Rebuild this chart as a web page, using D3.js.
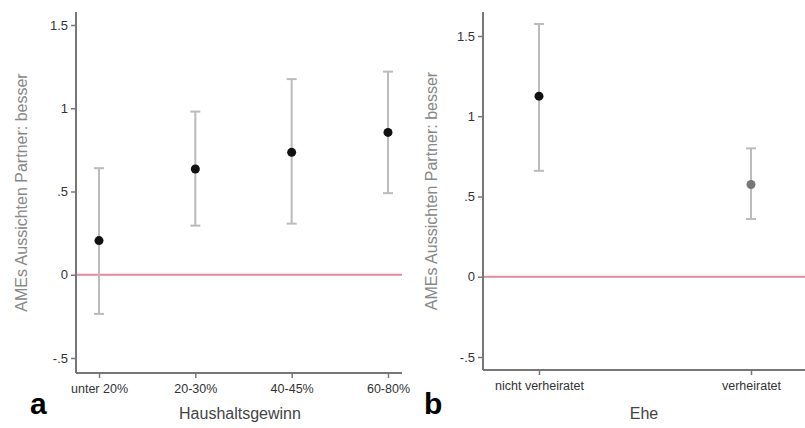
<!DOCTYPE html>
<html>
<head>
<meta charset="utf-8">
<script src="https://cdn.jsdelivr.net/npm/d3@7"></script>
<style>
  body { margin: 0; background: #fff; }
  svg { display: block; font-family: "Liberation Sans", Arial, sans-serif; }
</style>
</head>
<body>
<div id="chart"></div>
<script>
// panel a: Haushaltsgewinn
const incomeCats = ["unter 20%", "20-30%", "40-45%", "60-80%"]
const incomeEst = [0.205, 0.635, 0.735, 0.855]
const incomeLo = [-0.235, 0.295, 0.307, 0.49]
const incomeHi = [0.64, 0.98, 1.175, 1.22]
const incomeDot = ["#111", "#111", "#111", "#111"]

// panel b: Ehe
const marriageCats = ["nicht verheiratet", "verheiratet"]
const marriageEst = [1.125, 0.575]
const marriageLo = [0.66, 0.36]
const marriageHi = [1.575, 0.80]
const marriageDot = ["#111", "#777"]

const yTicks = [-0.5, 0, 0.5, 1, 1.5]
const yTitle = "AMEs Aussichten Partner: besser"

const W = 805, H = 428
const svg = d3.select("#chart").append("svg").attr("width", W).attr("height", H)

// stata style: .5 and -.5
const fmt = d => String(d).replace(/^0\./, ".").replace(/^-0\./, "-.")

function panel(opt) {
  const g = svg.append("g")
  const y = d3.scaleLinear().domain([-0.5, 1.5]).range([opt.y0, opt.y15])
  const x = d3.scalePoint().domain(opt.cats).range([opt.xFirst, opt.xLast])

  // zero line
  g.append("line")
    .attr("x1", opt.left).attr("x2", opt.right)
    .attr("y1", y(0)).attr("y2", y(0))
    .attr("stroke", "#e28a9c").attr("stroke-width", 2)

  // y axis
  const ya = g.append("g").attr("transform", `translate(${opt.left},0)`)
    .call(d3.axisLeft(y).tickValues(yTicks).tickFormat(fmt).tickSize(5).tickPadding(3))
  ya.select(".domain").remove()
  ya.append("line").attr("x1", 0).attr("x2", 0).attr("y1", 12).attr("y2", opt.bottom)
    .attr("stroke", "#777").attr("stroke-width", 2)
  ya.selectAll(".tick line").attr("stroke", "#777").attr("stroke-width", 1.5)
  ya.selectAll(".tick text").attr("fill", "#333").style("font-size", "13px")

  // x axis
  const xa = g.append("g").attr("transform", `translate(0,${opt.bottom})`)
    .call(d3.axisBottom(x).tickSize(5).tickPadding(6))
  xa.select(".domain").remove()
  xa.append("line").attr("x1", opt.left).attr("x2", opt.right).attr("y1", 0).attr("y2", 0)
    .attr("stroke", "#777").attr("stroke-width", 2)
  xa.selectAll(".tick line").attr("stroke", "#777").attr("stroke-width", 1.5)
  xa.selectAll(".tick text").attr("fill", "#333").style("font-size", "12.5px")

  // error bars
  const rows = opt.cats.map((c, i) => ({ c, est: opt.est[i], lo: opt.lo[i], hi: opt.hi[i], col: opt.dot[i] }))
  const bars = g.selectAll(".err").data(rows).enter().append("g").attr("class", "err")
  bars.append("line")
    .attr("x1", d => x(d.c)).attr("x2", d => x(d.c))
    .attr("y1", d => y(d.lo)).attr("y2", d => y(d.hi))
    .attr("stroke", "#bbb").attr("stroke-width", 2)
  bars.selectAll(".cap").data(d => [d.lo, d.hi].map(v => ({ c: d.c, v }))).enter()
    .append("line")
    .attr("x1", d => x(d.c) - 5).attr("x2", d => x(d.c) + 5)
    .attr("y1", d => y(d.v)).attr("y2", d => y(d.v))
    .attr("stroke", "#bbb").attr("stroke-width", 2)
  bars.append("circle")
    .attr("cx", d => x(d.c)).attr("cy", d => y(d.est))
    .attr("r", 4.5).attr("fill", d => d.col)

  // titles
  g.append("text")
    .attr("transform", `translate(${opt.titleX},${(12 + opt.bottom) / 2}) rotate(-90)`)
    .attr("text-anchor", "middle").attr("fill", "#888").style("font-size", "16px")
    .text(yTitle)
  g.append("text")
    .attr("x", opt.xTitleX).attr("y", 419)
    .attr("text-anchor", "middle").attr("fill", "#444").style("font-size", "16px")
    .text(opt.xTitle)
  g.append("text")
    .attr("x", opt.letterX).attr("y", 414)
    .attr("fill", "#000").style("font-size", "30px").style("font-weight", "bold")
    .text(opt.letter)
}

panel({
  cats: incomeCats, est: incomeEst, lo: incomeLo, hi: incomeHi, dot: incomeDot,
  left: 76, right: 402, bottom: 373, y0: 358, y15: 25,
  xFirst: 99, xLast: 388, titleX: 27, xTitle: "Haushaltsgewinn", xTitleX: 240,
  letter: "a", letterX: 30
})

panel({
  cats: marriageCats, est: marriageEst, lo: marriageLo, hi: marriageHi, dot: marriageDot,
  left: 483, right: 805, bottom: 370, y0: 357, y15: 36,
  xFirst: 539, xLast: 751, titleX: 437, xTitle: "Ehe", xTitleX: 644,
  letter: "b", letterX: 424
})
</script>
</body>
</html>
